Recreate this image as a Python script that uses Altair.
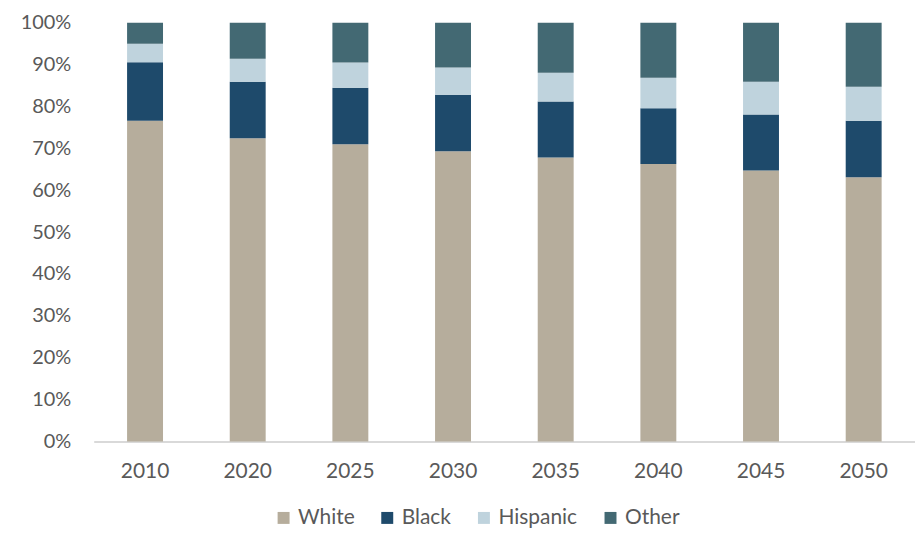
import altair as alt
import pandas as pd

years = ["2010", "2020", "2025", "2030", "2035", "2040", "2045", "2050"]
groups = ["White", "Black", "Hispanic", "Other"]
white = [76.6, 72.4, 71.0, 69.3, 67.8, 66.3, 64.7, 63.1]
black = [14.0, 13.5, 13.5, 13.5, 13.4, 13.3, 13.4, 13.5]
hispanic = [4.4, 5.5, 6.0, 6.5, 6.9, 7.3, 7.8, 8.1]
other = [5.0, 8.6, 9.5, 10.7, 11.9, 13.1, 14.1, 15.3]
colors = ["#b6ad9c", "#1e4a6b", "#bfd3dd", "#436973"]

series = {"White": white, "Black": black, "Hispanic": hispanic, "Other": other}
rows = []
for gi, g in enumerate(groups):
    for y, v in zip(years, series[g]):
        rows.append({"year": y, "group": g, "value": v, "ord": gi})
df = pd.DataFrame(rows)

FONT = "Lato"
TXT = "#595959"

chart = (
    alt.Chart(df)
    .mark_bar()
    .encode(
        x=alt.X(
            "year:N",
            sort=years,
            title=None,
            scale=alt.Scale(paddingInner=0.65, paddingOuter=0.325),
            axis=alt.Axis(
                labelAngle=0,
                labelFontSize=21,
                labelColor=TXT,
                labelFont=FONT,
                labelPadding=19,
                ticks=False,
                domainColor="#d9d9d9",
                domainWidth=2,
            ),
        ),
        y=alt.Y(
            "value:Q",
            stack="zero",
            title=None,
            scale=alt.Scale(domain=[0, 100], nice=False),
            axis=alt.Axis(
                values=list(range(0, 101, 10)),
                labelExpr="datum.value + '%'",
                labelFontSize=20,
                labelColor=TXT,
                labelFont=FONT,
                labelPadding=23,
                ticks=False,
                domain=False,
                grid=False,
            ),
        ),
        color=alt.Color(
            "group:N",
            sort=groups,
            scale=alt.Scale(domain=groups, range=colors),
            legend=alt.Legend(
                title=None,
                orient="none",
                direction="horizontal",
                legendX=180,
                legendY=486,
                symbolType="square",
                symbolSize=144,
                symbolStrokeWidth=0,
                labelFontSize=21,
                labelFont=FONT,
                labelColor=TXT,
                labelOffset=4,
                columnPadding=22,
            ),
        ),
        order=alt.Order("ord:Q", sort="ascending"),
    )
    .properties(
        width=824,
        height=420,
        autosize=alt.AutoSizeParams(type="none"),
        padding={"left": 86, "top": 14, "right": 0, "bottom": 86},
    )
    .configure_view(stroke=None)
)

chart.save("out.html", embed_options={"renderer": "svg", "actions": False})
